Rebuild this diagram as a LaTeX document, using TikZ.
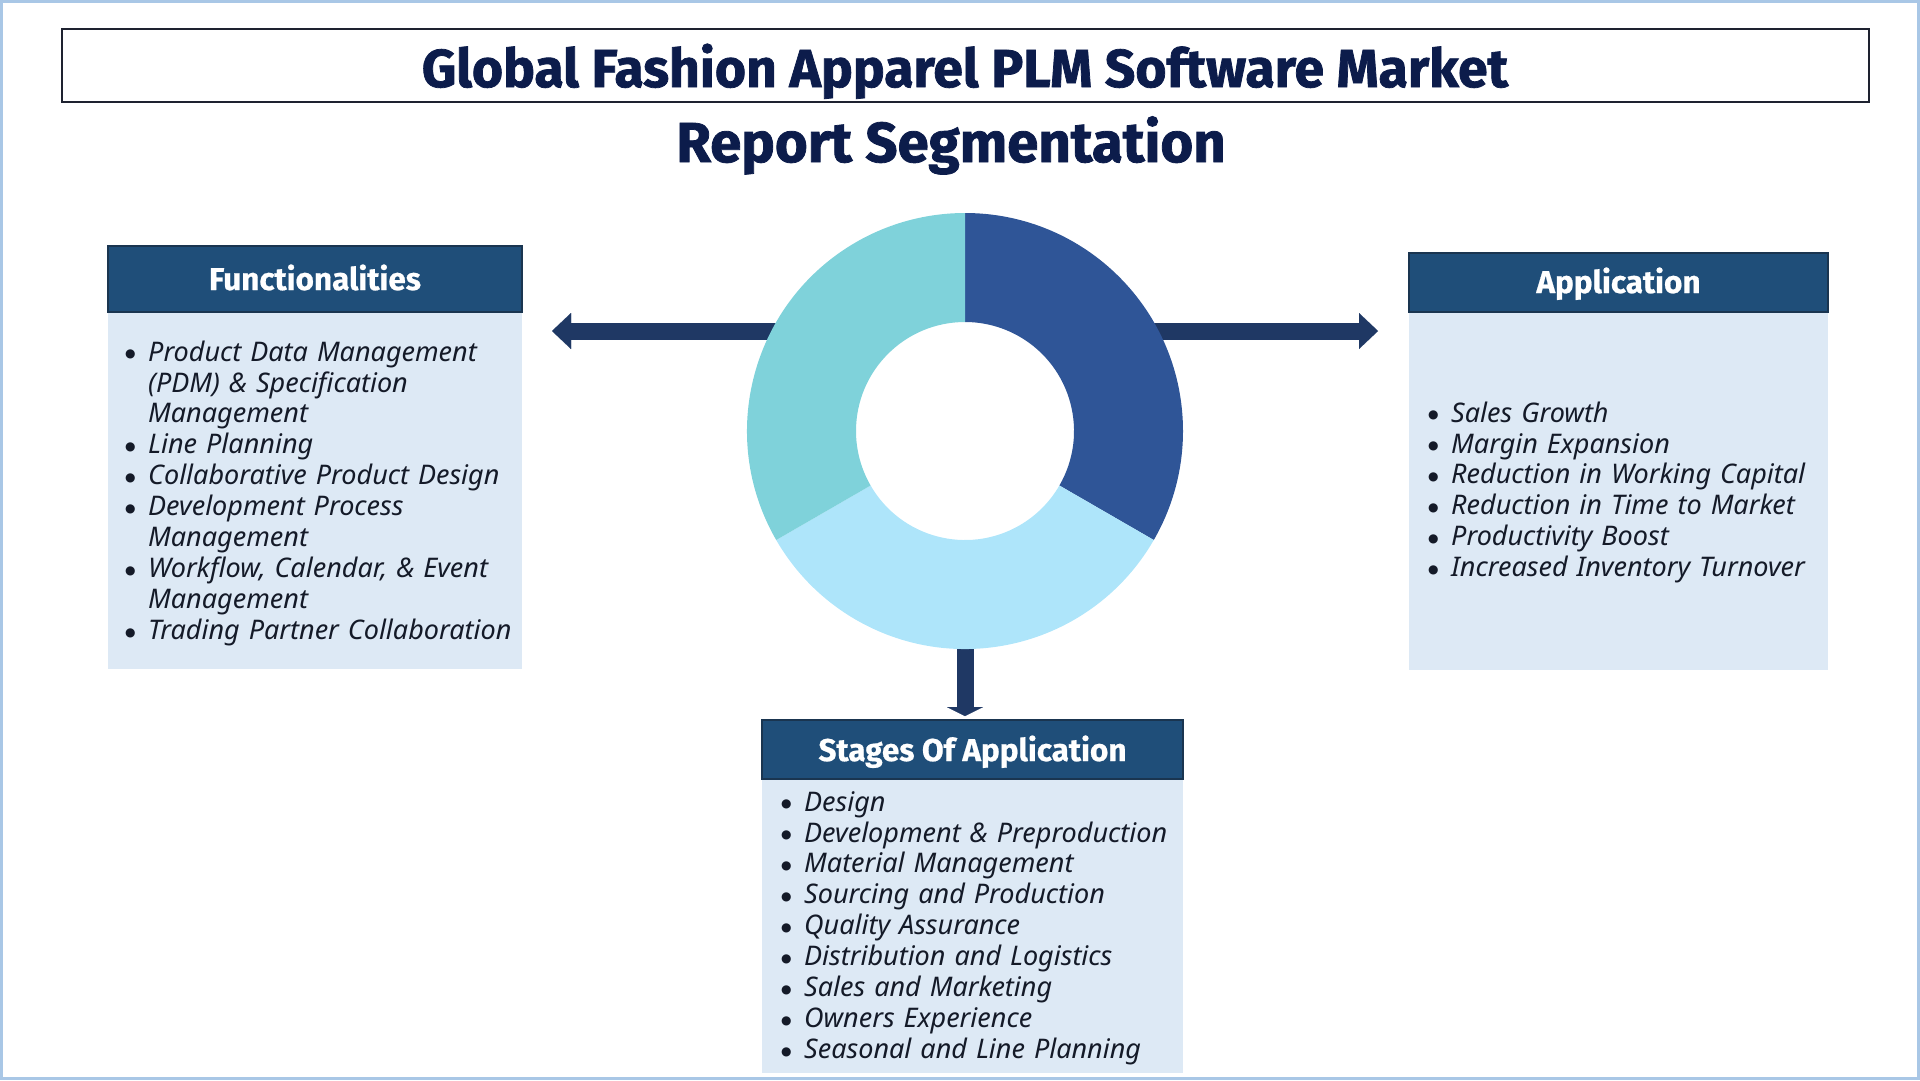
\documentclass[tikz,border=0pt]{standalone}
\usepackage{fontspec}
\setmainfont{Noto Sans}
\newfontfamily\headfont{Fira Sans}[BoldFeatures={FakeBold=0.6}]
\newfontfamily\titlefont{Fira Sans}[BoldFeatures={FakeBold=1.4}]
\newfontfamily\symfont{DejaVu Sans}
\usetikzlibrary{arrows.meta}
\definecolor{navy}{HTML}{0C1C4B}
\definecolor{hdr}{HTML}{1F4E79}
\definecolor{hdrline}{HTML}{1A3550}
\definecolor{bodybg}{HTML}{DDE9F5}
\definecolor{arrowc}{HTML}{1F3864}
\definecolor{segA}{HTML}{2F5597}
\definecolor{segB}{HTML}{AEE5FA}
\definecolor{segC}{HTML}{7FD2DA}
\definecolor{pageb}{HTML}{A9C7E6}
\definecolor{txt}{HTML}{141A28}
\definecolor{tbox}{HTML}{1E2230}
\newcommand{\bdot}{\makebox[24pt][l]{\hspace{1pt}\raisebox{3.2pt}{\symfont\fontsize{12}{12}\selectfont ●}}}
\newcommand{\bitem}[1]{\par\noindent\hangindent=24pt\hangafter=1\bdot\strut#1}
\tikzset{
  hdrbox/.style={draw=hdrline, line width=1.5pt, fill=hdr},
  bodybox/.style={fill=bodybg},
  hdrtext/.style={text=white, font=\headfont\bfseries\fontsize{31.5}{34}\selectfont, anchor=base, inner sep=0},
  listtext/.style={anchor=north west, inner sep=0, text width=440pt, text=txt,
    font=\itshape\fontsize{27}{30.9}\selectfont},
  bigarrow/.style={arrowc, line width=17pt},
  titletext/.style={anchor=base, inner sep=0, text=navy},
}
\begin{document}
\begin{tikzpicture}[x=1pt,y=-1pt]
\useasboundingbox (0,0) rectangle (1920,1080);
\draw[pageb, line width=3pt] (1.5,1.5) rectangle (1918.5,1078.5);

% title
\draw[tbox, line width=2pt] (62,29) rectangle (1869,102);
\node[titletext, font=\titlefont\bfseries\fontsize{53.4}{56}\selectfont] (title) at (965,87) {Global Fashion Apparel PLM Software Market};
\node[titletext, font=\titlefont\bfseries\fontsize{56.3}{60}\selectfont] (subtitle) at (951,162) {Report Segmentation};

% arrows
\coordinate (dc) at (965,431);
\coordinate (ls) at (815,331);
\coordinate (rs) at (1115,331);
\coordinate (ds) at (965,591);
\coordinate (la) at (552,331);
\coordinate (ra) at (1378,331);
\coordinate (da) at (965,716);
\draw[bigarrow, -{Triangle[length=19pt,width=36pt,line width=0.01pt]}] (ls) -- (la);
\draw[bigarrow, -{Triangle[length=19pt,width=36pt,line width=0.01pt]}] (rs) -- (ra);
\draw[bigarrow, -{Triangle[length=9pt,width=36pt,line width=0.01pt]}] (ds) -- (da);

% donut
\begin{scope}[y=1pt, shift={(dc)}]
\fill[segA] (90:218) arc[start angle=90, end angle=-30, radius=218] -- (-30:109) arc[start angle=-30, end angle=90, radius=109] -- cycle;
\fill[segB] (-30:218) arc[start angle=-30, end angle=-150, radius=218] -- (-150:109) arc[start angle=-150, end angle=-30, radius=109] -- cycle;
\fill[segC] (210:218) arc[start angle=210, end angle=90, radius=218] -- (90:109) arc[start angle=90, end angle=210, radius=109] -- cycle;
\end{scope}

% Functionalities
\fill[bodybox] (108,312) rectangle (522,669);
\draw[hdrbox] (108,246) rectangle (522,312);
\node[hdrtext] (fhead) at (315,290) {Functionalities};
\node[listtext] (flist) at (124,330) {\raggedright
\bitem{Product Data Management\newline(PDM) \& Specification\newline Management}
\bitem{Line Planning}
\bitem{Collaborative Product Design}
\bitem{Development Process\newline Management}
\bitem{Workflow, Calendar, \& Event\newline Management}
\bitem{Trading Partner Collaboration}};

% Application
\fill[bodybox] (1409,312) rectangle (1828,670);
\draw[hdrbox] (1409,253) rectangle (1828,312);
\node[hdrtext] (ahead) at (1618.5,293) {Application};
\node[listtext] (alist) at (1427,391) {\raggedright
\bitem{Sales Growth}
\bitem{Margin Expansion}
\bitem{Reduction in Working Capital}
\bitem{Reduction in Time to Market}
\bitem{Productivity Boost}
\bitem{Increased Inventory Turnover}};

% Stages
\fill[bodybox] (762,779) rectangle (1183,1073);
\draw[hdrbox] (762,720) rectangle (1183,779);
\node[hdrtext] (shead) at (972.5,761) {Stages Of Application};
\node[listtext] (slist) at (780,780) {\raggedright
\bitem{Design}
\bitem{Development \& Preproduction}
\bitem{Material Management}
\bitem{Sourcing and Production}
\bitem{Quality Assurance}
\bitem{Distribution and Logistics}
\bitem{Sales and Marketing}
\bitem{Owners Experience}
\bitem{Seasonal and Line Planning}};
\end{tikzpicture}
\end{document}
